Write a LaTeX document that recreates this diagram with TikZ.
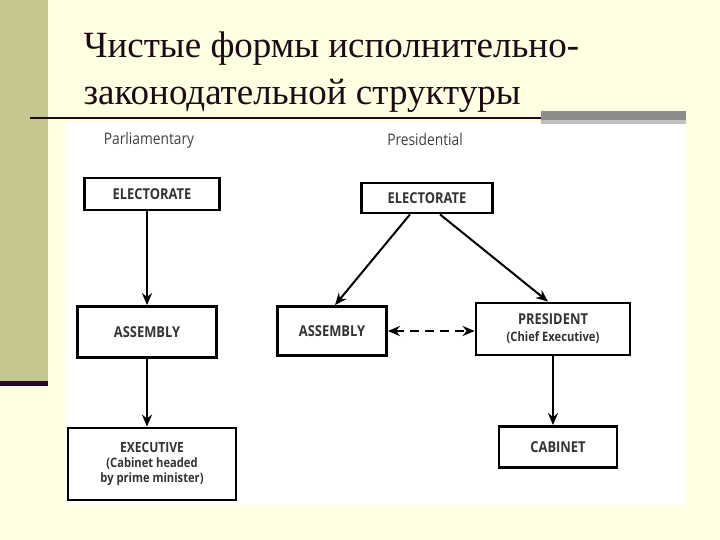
\documentclass[tikz,border=0pt]{standalone}
\usepackage{fontspec}
\setmainfont{Liberation Serif}
\newfontfamily\boxfont[FakeStretch=0.86]{Open Sans}
\usetikzlibrary{arrows.meta}
\definecolor{cream}{HTML}{FFFFE2}
\definecolor{khaki}{HTML}{C6C691}
\definecolor{plum}{HTML}{2A0A2A}
\definecolor{titlecol}{HTML}{1E0A14}
\tikzset{
  box/.style={draw, line width=2.8pt, align=center, inner sep=0pt,
    font=\boxfont\bfseries\fontsize{15}{17}\selectfont, text=black!80},
  arr/.style={line width=2pt, -{Stealth[length=12pt,width=10pt]}},
  head/.style={font=\boxfont\fontsize{16}{18}\selectfont, text=black!75}
}
\begin{document}
\begin{tikzpicture}[x=1pt,y=-1pt]
  \useasboundingbox (0,0) rectangle (720,540);
  % slide background
  \fill[cream] (0,0) rectangle (720,540);
  \fill[khaki] (0,0) rectangle (48,381);
  \fill[plum] (0,381) rectangle (48,386);
  \fill[white] (65,122) rectangle (685,505);
  \draw[line width=2pt, titlecol] (30,118) -- (541,118);
  \fill[black!45] (541,111) rectangle (686,120);
  \fill[black!25] (541,120) rectangle (686,124);
  \node[anchor=base west, font=\fontsize{37}{40}\selectfont, text=titlecol] (t1) at (80,58) {Чистые формы исполнительно-};
  \node[anchor=base west, font=\fontsize{37}{40}\selectfont, text=titlecol] (t2) at (80,105) {законодательной структуры};

  % Parliamentary
  \node[head] (hp) at (149,140) {Parliamentary};
  \node[box, minimum width=135pt, minimum height=32pt] (pel) at (152,194) {ELECTORATE};
  \node[box, minimum width=139pt, minimum height=51pt] (pas) at (147,332) {ASSEMBLY};
  \node[box, minimum width=168pt, minimum height=72pt, font=\boxfont\bfseries\fontsize{14}{15}\selectfont] (pex) at (152,464)
    {EXECUTIVE\\{\fontsize{13}{15}\selectfont(Cabinet headed}\\{\fontsize{13}{15}\selectfont by prime minister)}};
  \draw[arr] (pel.south -| pas.north) -- (pas.north);
  \draw[arr] (pas) -- (pas.south |- pex.north);

  % Presidential
  \node[head] (hr) at (425,140) {Presidential};
  \node[box, minimum width=131pt, minimum height=30pt] (rel) at (427,198) {ELECTORATE};
  \node[box, minimum width=109pt, minimum height=49pt] (ras) at (332,331) {ASSEMBLY};
  \node[box, minimum width=154pt, minimum height=52pt] (rpr) at (553,329)
    {PRESIDENT\\{\fontsize{13}{15}\selectfont(Chief Executive)}};
  \node[box, minimum width=118pt, minimum height=41pt] (rca) at (558,447) {CABINET};
  \draw[arr] ([xshift=-17pt]rel.south) -- ([xshift=3pt]ras.north);
  \draw[arr] ([xshift=13pt]rel.south) -- ([xshift=-5pt]rpr.north);
  \draw[line width=2pt, dash pattern=on 9pt off 6pt,
    {Stealth[length=12pt,width=10pt]}-{Stealth[length=12pt,width=10pt]}] (ras) -- (ras -| rpr.west);
  \draw[arr] (rpr.south) -- (rpr.south |- rca.north);
\end{tikzpicture}
\end{document}
